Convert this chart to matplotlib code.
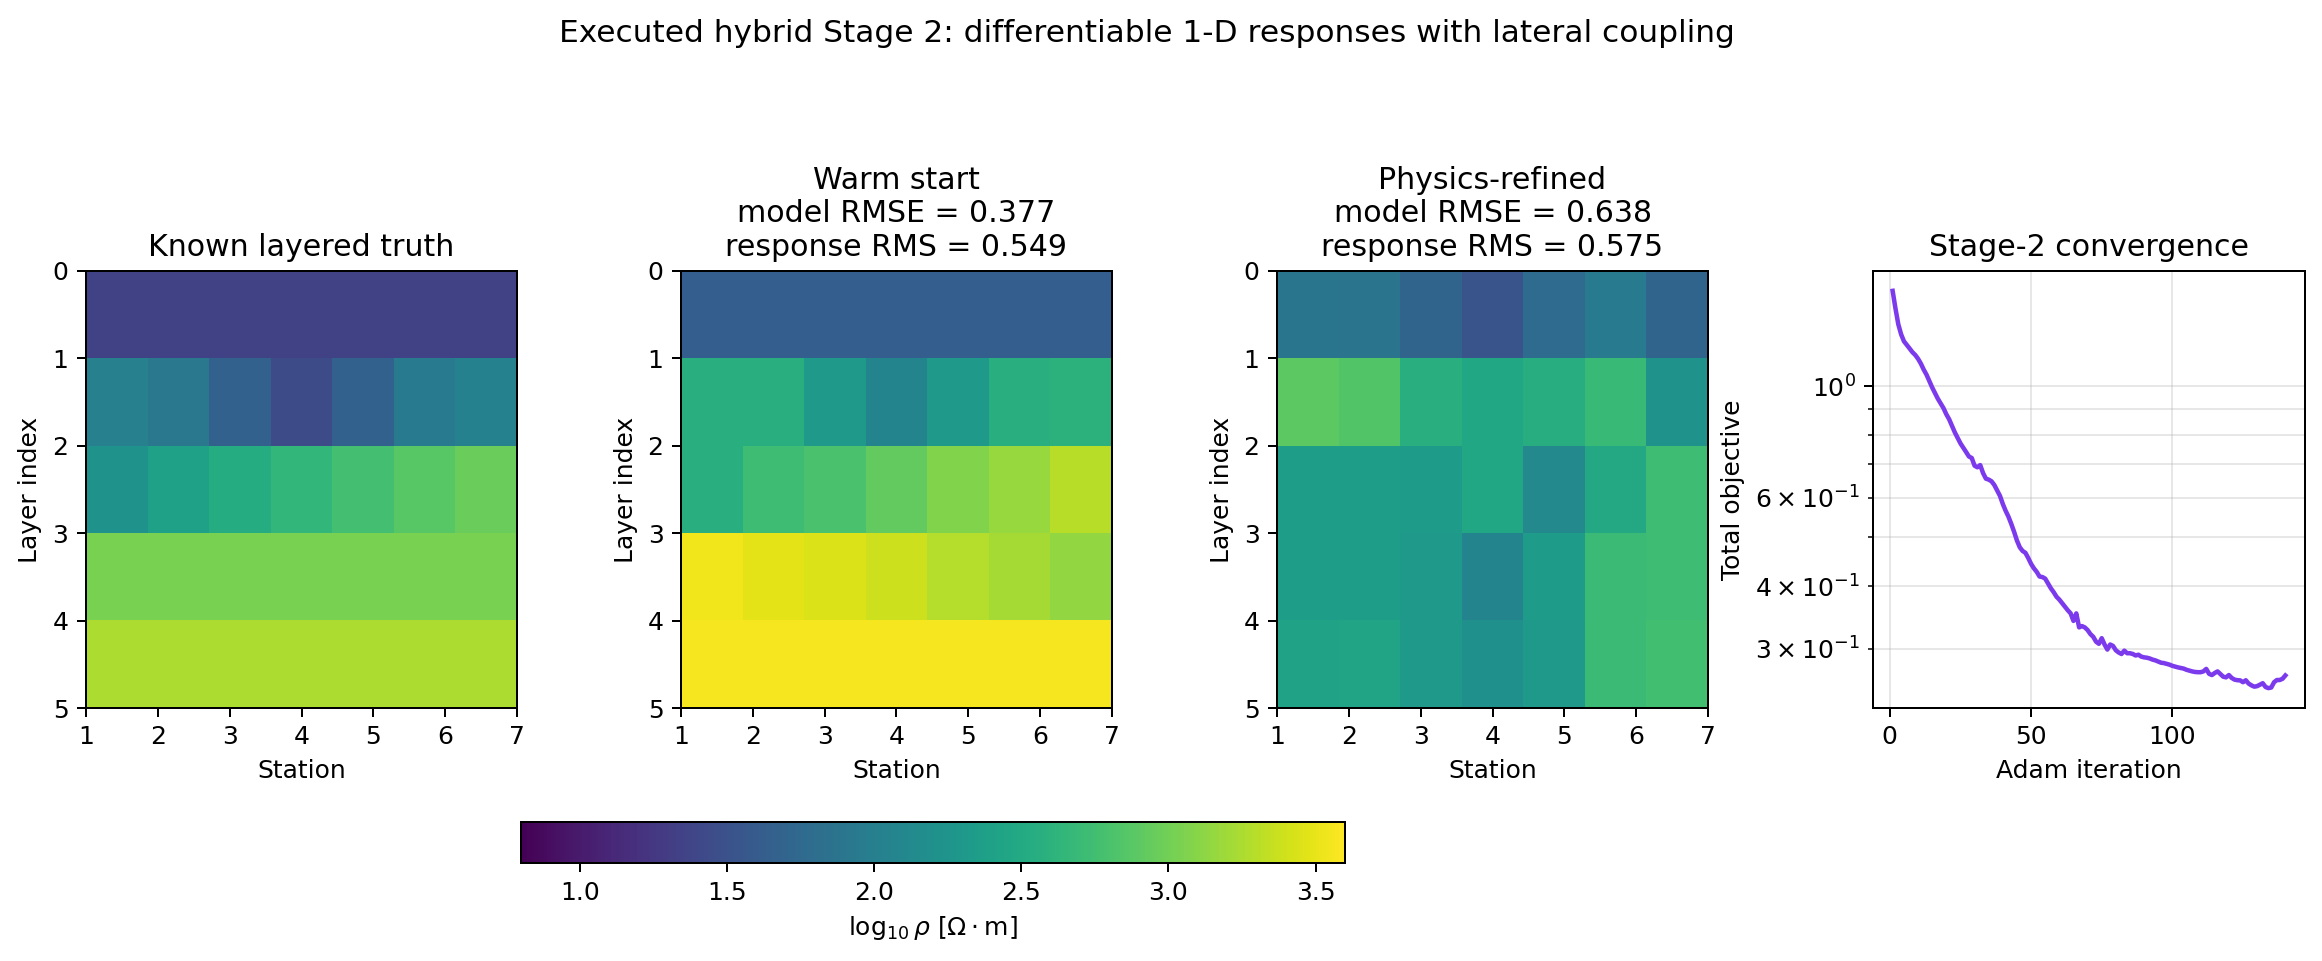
import numpy as np
import matplotlib
matplotlib.use("Agg")
import matplotlib.pyplot as plt

# ---------------- data ----------------
stations = [1, 2, 3, 4, 5, 6, 7]
layers = [0, 1, 2, 3, 4, 5]

truth = [
    [1.35, 1.35, 1.35, 1.35, 1.35, 1.35, 1.35],
    [2.02, 1.92, 1.67, 1.44, 1.67, 1.95, 2.03],
    [2.23, 2.40, 2.53, 2.65, 2.76, 2.87, 2.96],
    [3.04, 3.04, 3.04, 3.04, 3.04, 3.04, 3.04],
    [3.25, 3.25, 3.25, 3.25, 3.25, 3.25, 3.25],
]

warm = [
    [1.64, 1.64, 1.64, 1.64, 1.64, 1.64, 1.64],
    [2.56, 2.55, 2.31, 2.06, 2.31, 2.56, 2.60],
    [2.56, 2.73, 2.80, 2.93, 3.07, 3.17, 3.30],
    [3.54, 3.49, 3.45, 3.39, 3.29, 3.22, 3.15],
    [3.56, 3.56, 3.56, 3.56, 3.56, 3.56, 3.56],
]

refined = [
    [1.89, 1.88, 1.70, 1.53, 1.78, 1.95, 1.70],
    [2.90, 2.84, 2.56, 2.48, 2.54, 2.70, 2.23],
    [2.37, 2.37, 2.34, 2.48, 2.12, 2.49, 2.73],
    [2.37, 2.37, 2.31, 2.06, 2.34, 2.71, 2.73],
    [2.41, 2.43, 2.31, 2.20, 2.31, 2.71, 2.75],
]

titles = [
    "Known layered truth",
    "Warm start\nmodel RMSE = 0.377\nresponse RMS = 0.549",
    "Physics-refined\nmodel RMSE = 0.638\nresponse RMS = 0.575",
]

objective = [
    1.55, 1.43, 1.33, 1.27, 1.23, 1.21, 1.19, 1.17, 1.155, 1.135,
    1.11, 1.08, 1.055, 1.025, 0.995, 0.97, 0.945, 0.925, 0.905, 0.88,
    0.86, 0.835, 0.81, 0.79, 0.77, 0.755, 0.74, 0.725, 0.72, 0.695,
    0.69, 0.697, 0.672, 0.655, 0.652, 0.647, 0.636, 0.62, 0.605, 0.583,
    0.565, 0.55, 0.532, 0.513, 0.493, 0.478, 0.47, 0.466, 0.455, 0.443,
    0.434, 0.427, 0.418, 0.417, 0.414, 0.405, 0.396, 0.389, 0.381, 0.376,
    0.37, 0.364, 0.358, 0.353, 0.341, 0.353, 0.331, 0.333, 0.331, 0.327,
    0.321, 0.317, 0.31, 0.307, 0.315, 0.306, 0.299, 0.306, 0.304, 0.298,
    0.295, 0.293, 0.2975, 0.294, 0.294, 0.293, 0.291, 0.292, 0.2895, 0.2885,
    0.288, 0.287, 0.2855, 0.2845, 0.283, 0.2815, 0.281, 0.28, 0.279, 0.2775,
    0.2765, 0.2755, 0.2748, 0.274, 0.2725, 0.2715, 0.2705, 0.2698, 0.2695, 0.2695,
    0.2705, 0.2736, 0.2675, 0.266, 0.2685, 0.2705, 0.2672, 0.264, 0.2632, 0.266,
    0.2625, 0.2605, 0.2598, 0.2596, 0.2574, 0.2597, 0.2558, 0.2537, 0.2522, 0.2528,
    0.2545, 0.2562, 0.2518, 0.2505, 0.2512, 0.2574, 0.26, 0.26, 0.2615, 0.2655,
]
iterations = list(range(1, len(objective) + 1))

VMIN, VMAX = 0.8, 3.6

# ---------------- figure ----------------
W, H, DPI = 2322, 961, 180
fig = plt.figure(figsize=(W / DPI, H / DPI), dpi=DPI)

def px_axes(left, top, right, bottom):
    return fig.add_axes([left / W, 1 - bottom / H, (right - left) / W, (bottom - top) / H])

lefts = [86, 681, 1277]
im = None
for k, (data, title) in enumerate(zip([truth, warm, refined], titles)):
    ax = px_axes(lefts[k], 271, lefts[k] + 431, 708)
    im = ax.imshow(np.array(data), cmap="viridis", vmin=VMIN, vmax=VMAX,
                   extent=[stations[0], stations[-1], layers[-1], layers[0]],
                   aspect="auto", interpolation="nearest")
    ax.set_xticks(stations)
    ax.set_yticks(layers)
    ax.set_xlabel("Station")
    ax.set_ylabel("Layer index")
    ax.set_title(title)

ax4 = px_axes(1873, 271, 2305, 708)
ax4.plot(iterations, objective, color="#7c3aed", lw=1.8)
ax4.set_yscale("log")
ax4.grid(True, which="both", alpha=0.3)
ax4.set_xlabel("Adam iteration")
ax4.set_ylabel("Total objective")
ax4.set_title("Stage-2 convergence")

cax = px_axes(521, 822, 1345, 863)
cb = fig.colorbar(im, cax=cax, orientation="horizontal")
cb.set_label(r"$\log_{10}\rho$ [$\Omega\cdot$m]")

fig.suptitle("Executed hybrid Stage 2: differentiable 1-D responses with lateral coupling",
             fontsize=12.5, x=0.494)

fig.savefig("out.png", dpi=DPI)
